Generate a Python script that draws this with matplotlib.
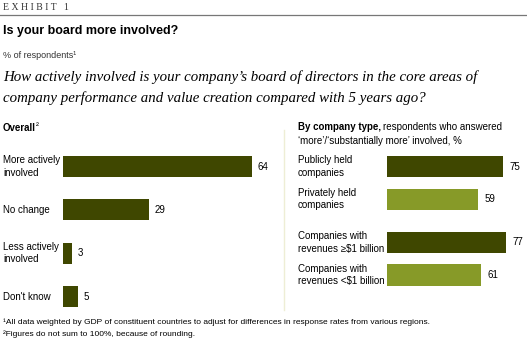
"""Exhibit 1: board involvement bar charts."""
import matplotlib
matplotlib.use("Agg")
import matplotlib.pyplot as plt
from matplotlib.lines import Line2D

W, H = 527, 357
DARK = "#3f4700"
LIGHT = "#879a28"
SANS = ["Liberation Sans", "DejaVu Sans"]
SERIF = ["Liberation Serif", "DejaVu Serif"]

overall_labels = ["More actively\ninvolved", "No change", "Less actively\ninvolved", "Don't know"]
overall_values = [64, 29, 3, 5]

type_labels = ["Publicly held\ncompanies", "Privately held\ncompanies",
               "Companies with\nrevenues \u2265$1 billion", "Companies with\nrevenues <$1 billion"]
type_values = [75, 59, 77, 61]
type_colors = [DARK, LIGHT, DARK, LIGHT]


def px_axes(fig, x0, y0, x1, y1):
    # pixel box measured from top-left
    return fig.add_axes([x0 / W, 1 - y1 / H, (x1 - x0) / W, (y1 - y0) / H])


fig = plt.figure(figsize=(W / 100, H / 100), dpi=100)
renderer = fig.canvas.get_renderer()


def ftext(x, y, s, **kw):
    kw.setdefault("family", SANS)
    kw.setdefault("va", "center")
    return fig.text(x / W, 1 - y / H, s, **kw)


def after(t, y, s, gap=2, **kw):
    # put a text right after another one on the same line
    bb = t.get_window_extent(renderer)
    return ftext(bb.x1 + gap, y, s, **kw)


ftext(3, 7, "E X H I B I T   1", family=SERIF, fontsize=7, color="#333333")
fig.add_artist(Line2D([0, 1], [1 - 15 / H] * 2, color="#777777", lw=0.9))
ftext(3, 31, "Is your board more involved?", fontsize=9, fontweight="bold")
ftext(3, 56, "% of respondents\u00b9", fontsize=6.5, color="#333333")
ftext(3, 77, "How actively involved is your company\u2019s board of directors in the core areas of",
      family=SERIF, style="italic", fontsize=10.7)
ftext(3, 98, "company performance and value creation compared with 5 years ago?",
      family=SERIF, style="italic", fontsize=10.7)

t = ftext(3, 128, "Overall", fontsize=7, fontweight="bold")
after(t, 126, "\u00b2", gap=0, fontsize=6.5)
t = ftext(298, 127, "By company type,", fontsize=7, fontweight="bold")
after(t, 127, "respondents who answered", gap=2, fontsize=7)
ftext(298, 141, "\u2018more\u2019/\u2018substantially more\u2019 involved, %", fontsize=7)

fig.add_artist(Line2D([284 / W] * 2, [1 - 130 / H, 1 - 310 / H], color="#eeeed5", lw=1))

# left panel: 64 units -> 189 px
unit = 43.4
s1 = 189 / 64
ax1 = px_axes(fig, 63, 166.5 - unit / 2, 282, 166.5 + unit * 3.5)
pos1 = list(range(len(overall_values)))
ax1.barh(pos1, overall_values, height=0.485, color=DARK)
ax1.set_xlim(0, 219 / s1)
ax1.set_ylim(3.5, -0.5)
for p, v, lab in zip(pos1, overall_values, overall_labels):
    ax1.text(v + 6 / s1, p, str(v), va="center", ha="left", family=SANS, fontsize=7)
    ax1.text(-60 / s1, p, lab, va="center", ha="left", family=SANS, fontsize=7,
             linespacing=1.3)
ax1.axis("off")

# right panel: 75 units -> 116 px
pos2 = [0, 0.75, 1.75, 2.5]
s2 = 116 / 75
ax2 = px_axes(fig, 387, 166.5 - unit / 2, 527, 166.5 + unit * 3.5)
ax2.barh(pos2, type_values, height=0.485, color=type_colors)
ax2.set_xlim(0, 140 / s2)
ax2.set_ylim(3.5, -0.5)
for p, v, lab in zip(pos2, type_values, type_labels):
    ax2.text(v + 6 / s2, p, str(v), va="center", ha="left", family=SANS, fontsize=7)
    ax2.text(-89 / s2, p, lab, va="center", ha="left", family=SANS, fontsize=7,
             linespacing=1.3)
ax2.axis("off")

ftext(3, 322, "\u00b9All data weighted by GDP of constituent countries to adjust for differences "
      "in response rates from various regions.", fontsize=6)
ftext(3, 334, "\u00b2Figures do not sum to 100%, because of rounding.", fontsize=6)

fig.savefig("out.png", dpi=100)
